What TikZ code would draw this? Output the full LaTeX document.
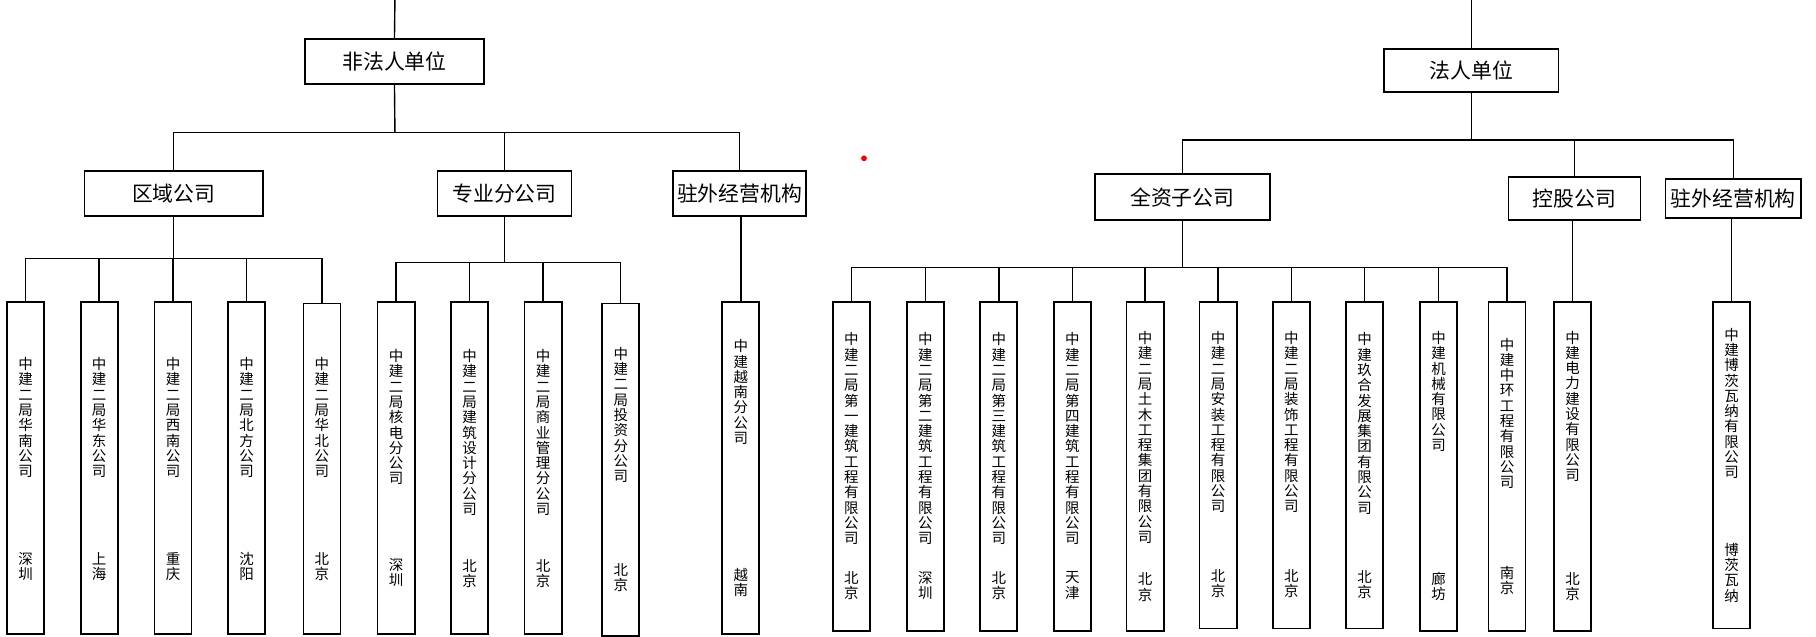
\documentclass[tikz,border=0pt]{standalone}
\usepackage{fontspec}
\newfontfamily\cjk{Noto Sans CJK SC}
\def\vstEnd{}
\newcommand\vst[1]{\vbox{\baselineskip=13.2pt\lineskiplimit=-100pt\lineskip=0pt\vstA#1\vstEnd}}
\def\vstA#1{\ifx#1\vstEnd\else\hbox to 14pt{\hss#1\hss}\expandafter\vstA\fi}
\tikzset{
  midbox/.style={draw, line width=1.6pt, inner sep=0pt, font=\cjk\fontsize{18}{20}\selectfont},
  leafbox/.style={draw, line width=1.6pt, inner sep=0pt, minimum width=32pt},
  vtext/.style={inner sep=0pt, font=\cjk\fontsize{12.5}{13.2}\selectfont},
  link/.style={line width=1.2pt},
}
\newcommand\leaf[8]{%
  \node[leafbox, minimum height={#4pt-#3pt}] (#1) at ({#2},{(#3+#4)/2}) {};
  \node[vtext, anchor=north] (#1n) at ({#2},{#5-0.5}) {\vst{#7}};
  \node[vtext] (#1c) at ({#2},{#6}) {\vst{#8}};
}
\begin{document}
\begin{tikzpicture}[x=1pt, y=-1pt]
\useasboundingbox (0,0) rectangle (1568,550);
% ---- left: non-legal-person units
\node[midbox, minimum width=154pt, minimum height=38.8pt] (fr) at (340.6,53.1) {非法人单位};
\node[midbox, minimum width=154pt, minimum height=39pt] (qy) at (150,167) {区域公司};
\node[midbox, minimum width=115.7pt, minimum height=39pt] (zy) at (435.6,167) {专业分公司};
\node[midbox, minimum width=114.7pt, minimum height=39pt] (zw1) at (638.6,167) {驻外经营机构};
% ---- right: legal-person units
\node[midbox, minimum width=150.6pt, minimum height=37.4pt] (fr2) at (1270.3,60.7) {法人单位};
\node[midbox, minimum width=151.2pt, minimum height=39.5pt] (qz) at (1020.9,170.25) {全资子公司};
\node[midbox, minimum width=114pt, minimum height=37.5pt] (kg) at (1359.5,171.25) {控股公司};
\node[midbox, minimum width=117pt, minimum height=34pt] (zw2) at (1496.5,171.55) {驻外经营机构};
% ---- leaves
\leaf{L1}{22.2}{260.5}{547.4}{309}{489}{中建二局华南公司}{深圳}
\leaf{L2}{85.6}{260.5}{547.4}{309}{489}{中建二局华东公司}{上海}
\leaf{L3}{149.4}{260.5}{547.4}{309}{489}{中建二局西南公司}{重庆}
\leaf{L4}{213}{260.5}{547.4}{309}{489}{中建二局北方公司}{沈阳}
\leaf{L5}{278}{262}{547.5}{309}{489}{中建二局华北公司}{北京}
\leaf{L6}{342}{260.5}{547.4}{302}{494.5}{中建二局核电分公司}{深圳}
\leaf{L7}{405.5}{260.5}{547.4}{302}{495}{中建二局建筑设计分公司}{北京}
\leaf{L8}{468.9}{260.5}{547.4}{302}{495}{中建二局商业管理分公司}{北京}
\leaf{L9}{536}{262}{549}{300}{499}{中建二局投资分公司}{北京}
\leaf{L10}{639.7}{260.5}{547.4}{293.5}{503}{中建越南分公司}{越南}
\leaf{L11}{735}{260.5}{544.6}{287.6}{505.5}{中建二局第一建筑工程有限公司}{北京}
\leaf{L12}{799}{260.5}{544.6}{287.6}{505.5}{中建二局第二建筑工程有限公司}{深圳}
\leaf{L13}{862.4}{260.5}{544.6}{287.6}{505.5}{中建二局第三建筑工程有限公司}{北京}
\leaf{L14}{926}{260.5}{544.6}{287.6}{505.5}{中建二局第四建筑工程有限公司}{天津}
\leaf{L15}{988.7}{260.5}{544.6}{286.5}{507}{中建二局土木工程集团有限公司}{北京}
\leaf{L16}{1051.7}{260.5}{542.6}{286.5}{504}{中建二局安装工程有限公司}{北京}
\leaf{L17}{1115}{260.5}{542.6}{286.5}{504}{中建二局装饰工程有限公司}{北京}
\leaf{L18}{1178.3}{260.5}{542.6}{287.6}{505}{中建玖合发展集团有限公司}{北京}
\leaf{L19}{1242.2}{260.5}{544.6}{286.4}{506.5}{中建机械有限公司}{廊坊}
\leaf{L20}{1301.2}{260.5}{544.6}{292}{501}{中建中环工程有限公司}{南京}
\leaf{L21}{1357.8}{260.5}{544.6}{286}{506.5}{中建电力建设有限公司}{北京}
\leaf{L22}{1495.2}{260.5}{542.6}{283.5}{494.5}{中建博茨瓦纳有限公司}{博茨瓦纳}
% ---- connectors left
\coordinate (t1) at (341,0);
\draw[link] (t1) -- (fr.north);
\coordinate (b1) at (341,114.3);
\draw[link] (fr.south) -- (b1);
\draw[link] (qy.north) -- (qy.north |- b1) -- (zw1.north |- b1) -- (zw1.north);
\draw[link] (zy.north) -- (zy.north |- b1);
\coordinate (b2) at (150,223);
\draw[link] (qy.south) -- (qy.south |- b2);
\draw[link] (L1.north) -- (L1.north |- b2) -- (L5.north |- b2) -- (L5.north);
\foreach \n in {L2,L3,L4} \draw[link] (\n.north) -- (\n.north |- b2);
\coordinate (b3) at (435.6,226.5);
\draw[link] (zy.south) -- (zy.south |- b3);
\draw[link] (L6.north) -- (L6.north |- b3) -- (L9.north |- b3) -- (L9.north);
\foreach \n in {L7,L8} \draw[link] (\n.north) -- (\n.north |- b3);
\draw[link] (L10.north) -- (L10.north |- zw1.south);
% ---- connectors right
\coordinate (t2) at (1270.3,0);
\draw[link] (t2) -- (fr2.north);
\coordinate (b4) at (1270.3,121);
\draw[link] (fr2.south) -- (b4);
\draw[link] (qz.north) -- (qz.north |- b4) -- (zw2.north |- b4) -- (zw2.north);
\draw[link] (kg.north) -- (kg.north |- b4);
\coordinate (b5) at (1020.9,231);
\draw[link] (qz.south) -- (qz.south |- b5);
\draw[link] (L11.north) -- (L11.north |- b5) -- (L20.north |- b5) -- (L20.north);
\foreach \n in {L12,L13,L14,L15,L16,L17,L18,L19} \draw[link] (\n.north) -- (\n.north |- b5);
\draw[link] (L21.north) -- (L21.north |- kg.south);
\draw[link] (L22.north) -- (L22.north |- zw2.south);
% ---- stray red dot
\fill[red] (746,136.7) circle (2.5pt);
\end{tikzpicture}
\end{document}
